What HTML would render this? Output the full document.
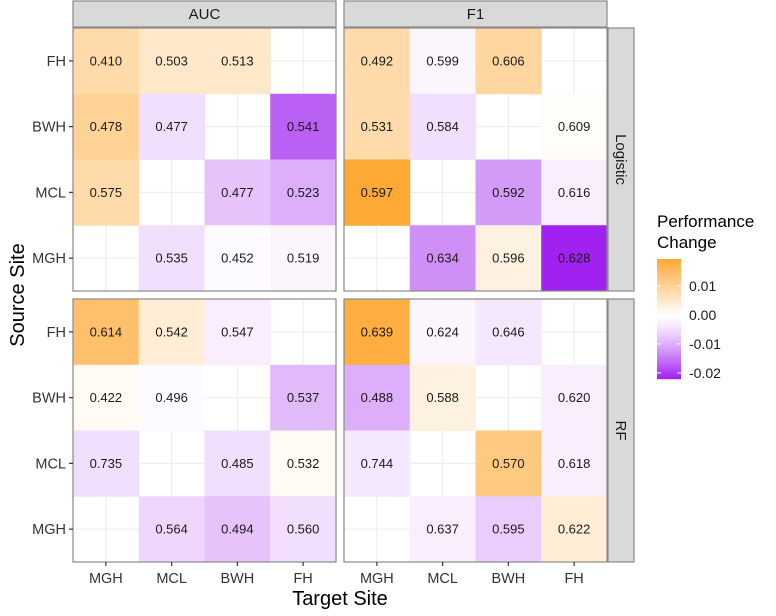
<!DOCTYPE html>
<html><head><meta charset="utf-8"><style>
body{margin:0;background:#fff;font-family:"Liberation Sans",sans-serif;}
</style></head><body>
<svg id="chart" width="776" height="611" xmlns="http://www.w3.org/2000/svg" font-family="Liberation Sans, sans-serif"></svg>
<script>
const rowsLab = ["FH","BWH","MCL","MGH"];
const colsLab = ["MGH","MCL","BWH","FH"];
const metrics = ["AUC","F1"];
const models = ["Logistic","RF"];
const aucLogLabels = [[0.410,0.503,0.513,null],[0.478,0.477,null,0.541],[0.575,null,0.477,0.523],[null,0.535,0.452,0.519]];
const aucLogChange = [[0.008,0.005,0.005,null],[0.010,-0.005,null,-0.017],[0.008,null,-0.008,-0.010],[null,-0.005,-0.001,-0.002]];
const f1LogLabels = [[0.492,0.599,0.606,null],[0.531,0.584,null,0.609],[0.597,null,0.592,0.616],[null,0.634,0.596,0.628]];
const f1LogChange = [[0.008,-0.002,0.009,null],[0.008,-0.005,null,0.0005],[0.019,null,-0.012,-0.003],[null,-0.013,0.003,-0.022]];
const aucRfLabels = [[0.614,0.542,0.547,null],[0.422,0.496,null,0.537],[0.735,null,0.485,0.532],[null,0.564,0.494,0.560]];
const aucRfChange = [[0.014,0.004,-0.003,null],[0.001,-0.001,null,-0.009],[-0.005,null,-0.005,0.001],[null,-0.006,-0.008,-0.005]];
const f1RfLabels = [[0.639,0.624,0.646,null],[0.488,0.588,null,0.620],[0.744,null,0.570,0.618],[null,0.637,0.595,0.622]];
const f1RfChange = [[0.018,-0.002,-0.004,null],[-0.010,0.003,null,-0.003],[-0.004,null,0.012,-0.003],[null,-0.003,-0.007,0.004]];
const legendTicks = [0.01,0.00,-0.01,-0.02];
const vMax = 0.0193, vMin = -0.0221;

const svg = document.getElementById('chart');
const NS = "http://www.w3.org/2000/svg";
function mk(tag, attrs, parent){const e=document.createElementNS(NS,tag);for(const k in attrs)e.setAttribute(k,attrs[k]);(parent||svg).appendChild(e);return e;}
function mix(a,b,t){return a.map((v,i)=>Math.round(v+(b[i]-v)*t));}
function color(v){
  const W=[255,255,255], O=[255,168,52], P=[160,32,240];
  let c = v>=0 ? mix(W,O,Math.min(v/vMax,1)) : mix(W,P,Math.pow(Math.min(v/vMin,1),1.3));
  return `rgb(${c[0]},${c[1]},${c[2]})`;
}
const panelX=[73,344], panelY=[28,299], PW=263, PH=263, cw=PW/4, ch=PH/4;
const xS=(j,p)=>panelX[p]+j*cw, yS=(i,q)=>panelY[q]+i*ch;
const data=[[[aucLogLabels,aucLogChange],[f1LogLabels,f1LogChange]],[[aucRfLabels,aucRfChange],[f1RfLabels,f1RfChange]]];

for(let q=0;q<2;q++)for(let p=0;p<2;p++){
  const g=mk('g',{});
  
  
  mk('rect',{x:panelX[p],y:panelY[q],width:PW,height:PH,fill:'#fff'},g);
  for(let k=0;k<4;k++){
    mk('line',{x1:xS(k,p)+cw/2,x2:xS(k,p)+cw/2,y1:panelY[q],y2:panelY[q]+PH,stroke:'#ebebeb','stroke-width':1},g);
    mk('line',{y1:yS(k,q)+ch/2,y2:yS(k,q)+ch/2,x1:panelX[p],x2:panelX[p]+PW,stroke:'#ebebeb','stroke-width':1},g);
  }
  const [labs,chg]=data[q][p];
  for(let i=0;i<4;i++)for(let j=0;j<4;j++){
    if(labs[i][j]===null)continue;
    const r=mk('rect',{x:xS(j,p),y:yS(i,q),width:cw+0.5,height:ch+0.5,fill:color(chg[i][j])},g);
    
    
    const t=mk('text',{x:xS(j,p)+cw/2,y:yS(i,q)+ch/2+4.5,'text-anchor':'middle','font-size':13,fill:'#1a1a1a'},g);
    t.textContent=labs[i][j].toFixed(3);
    
    
  }
  mk('rect',{x:panelX[p],y:panelY[q],width:PW,height:PH,fill:'none',stroke:'#8a8a8a','stroke-width':1.2},g);
}
for(let p=0;p<2;p++){
  const r=mk('rect',{x:panelX[p],y:1,width:PW,height:26,fill:'#d9d9d9',stroke:'#8a8a8a','stroke-width':1.2});
  
  
  const t=mk('text',{x:panelX[p]+PW/2,y:19,'text-anchor':'middle','font-size':15,fill:'#1a1a1a'});
  t.textContent=metrics[p];
}
for(let q=0;q<2;q++){
  const r=mk('rect',{x:608,y:panelY[q],width:26,height:PH,fill:'#d9d9d9',stroke:'#8a8a8a','stroke-width':1.2});
  
  
  const cy=panelY[q]+PH/2;
  const t=mk('text',{x:621,y:cy,'text-anchor':'middle','font-size':15,fill:'#1a1a1a',transform:`rotate(90 621 ${cy}) translate(0 5)`});
  t.textContent=models[q];
}
for(let q=0;q<2;q++)for(let i=0;i<4;i++){
  const y=yS(i,q)+ch/2;
  mk('line',{x1:69,x2:73,y1:y,y2:y,stroke:'#333','stroke-width':1.2});
  const t=mk('text',{x:66,y:y+5,'text-anchor':'end','font-size':14.5,fill:'#333'});
  t.textContent=rowsLab[i];
  
  
}
for(let p=0;p<2;p++)for(let j=0;j<4;j++){
  const x=xS(j,p)+cw/2;
  mk('line',{x1:x,x2:x,y1:562,y2:566,stroke:'#333','stroke-width':1.2});
  const t=mk('text',{x:x,y:583,'text-anchor':'middle','font-size':14.5,fill:'#333'});
  t.textContent=colsLab[j];
  
  
}
const xt=mk('text',{x:340,y:605,'text-anchor':'middle','font-size':20,fill:'#000'});
xt.textContent='Target Site';


const yt=mk('text',{x:0,y:0,'text-anchor':'middle','font-size':20,fill:'#000',transform:'translate(24 295) rotate(-90)'});
yt.textContent='Source Site';


const lg=mk('g',{});


const l1=mk('text',{x:657,y:227,'font-size':17,fill:'#000'},lg);l1.textContent='Performance';
const l2=mk('text',{x:657,y:248,'font-size':17,fill:'#000'},lg);l2.textContent='Change';
const barTop=259, barBot=379, bx=657, bw=24;
const vy=v=>barTop+(vMax-v)/(vMax-vMin)*(barBot-barTop);
for(let k=0;k<120;k++){
  const v=vMax-(k+0.5)/120*(vMax-vMin);
  mk('rect',{x:bx,y:barTop+k,width:bw,height:1.2,fill:color(v)},lg);
}
legendTicks.forEach(v=>{
  const y=vy(v);
  mk('line',{x1:bx,x2:bx+4,y1:y,y2:y,stroke:'#fff','stroke-width':1},lg);
  mk('line',{x1:bx+bw-4,x2:bx+bw,y1:y,y2:y,stroke:'#fff','stroke-width':1},lg);
  const t=mk('text',{x:689,y:y+5,'font-size':14,fill:'#1a1a1a'},lg);
  t.textContent=v.toFixed(2);
});
</script>
</body></html>
